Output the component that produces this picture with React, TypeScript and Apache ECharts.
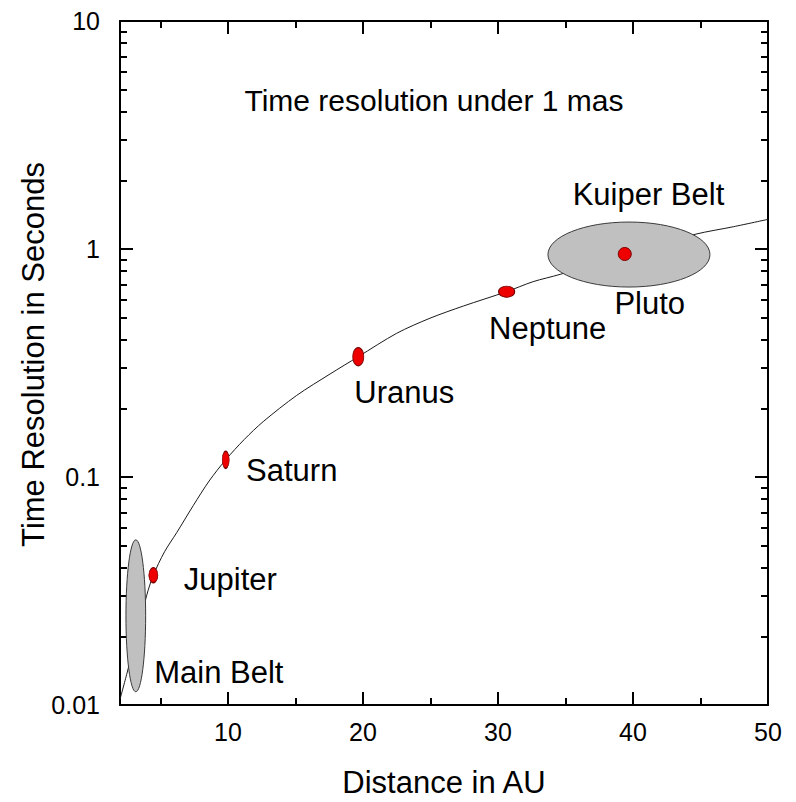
import React, { useEffect, useRef } from 'react';
import * as echarts from 'echarts';

// ---------- data ----------
const xMajorTicks = [10, 20, 30, 40, 50];
const xMinorTicks = [5, 15, 25, 35, 45];
const yMinorTickValues = [
  0.02, 0.03, 0.04, 0.05, 0.06, 0.07, 0.08, 0.09,
  0.2, 0.3, 0.4, 0.5, 0.6, 0.7, 0.8, 0.9,
  2, 3, 4, 5, 6, 7, 8, 9,
];

// curve: time resolution (s) vs distance (AU)
const curveDistance = [2.0, 2.52, 3.98, 4.47, 5.3, 6.2, 7.43, 8.6, 9.83, 11.2, 12.61, 15.09, 17.56, 19.65, 22.5, 24.96, 27.43, 30.64, 32.6, 34.6, 39.4, 44.6, 47.43, 50];
const curveTime = [0.0106, 0.0138, 0.0303, 0.0371, 0.047, 0.057, 0.075, 0.096, 0.119, 0.146, 0.175, 0.228, 0.283, 0.337, 0.427, 0.497, 0.562, 0.65, 0.719, 0.774, 0.951, 1.16, 1.252, 1.349];

// planets
const planetNames = ['Jupiter', 'Saturn', 'Uranus', 'Neptune', 'Pluto'];
const planetDistance = [4.47, 9.83, 19.65, 30.64, 39.39];
const planetTime = [0.0371, 0.119, 0.337, 0.65, 0.951];

// belts (extent of the shaded ellipses)
const beltNames = ['Main Belt', 'Kuiper Belt'];
const beltDistanceMin = [2.44, 33.7];
const beltDistanceMax = [3.9, 45.7];
const beltTimeMin = [0.01143, 0.681];
const beltTimeMax = [0.053, 1.313];

const chartTitle = 'Time resolution under 1 mas';
const xTitle = 'Distance in AU';
const yTitle = 'Time Resolution in Seconds';

// ---------- layout / style ----------
const FONT = '"Liberation Sans", Arial, Helvetica, sans-serif';
const planetMarkerSize = [[9, 15], [7, 17], [11, 18], [16, 11], [13, 13]];
const planetLabelOffset = [[77, 4], [66, 11], [46, 36], [41, 37], [25, 50]];
const beltLabelOffset = [[83, 56.5], [19.5, -60.5]];
const LABEL_SIZE = 31;

export default function App() {
  const ref = useRef<HTMLDivElement>(null);

  useEffect(() => {
    if (!ref.current) return;
    const chart = echarts.init(ref.current, undefined, { renderer: 'svg' });

    const axisLine = { show: true, onZero: false, lineStyle: { color: '#000', width: 2 } };
    const hiddenLine = { show: false, onZero: false };
    const tickStyle = { color: '#000', width: 2 };
    const noSplit = { show: false };
    const yMinorLog = yMinorTickValues.map((v) => Math.log10(v));

    const xAxes = [
      {
        type: 'value', min: 2, max: 50, position: 'bottom', gridIndex: 0,
        axisLine, splitLine: noSplit,
        axisTick: { show: true, inside: true, length: 13, customValues: xMajorTicks, lineStyle: tickStyle },
        axisLabel: { show: true, customValues: xMajorTicks, fontSize: 25, color: '#000', fontFamily: FONT, margin: 14 },
        name: xTitle, nameLocation: 'middle', nameGap: 62,
        nameTextStyle: { fontSize: 31, color: '#000', fontFamily: FONT },
      },
      {
        type: 'value', min: 2, max: 50, position: 'bottom', gridIndex: 0,
        axisLine: hiddenLine, splitLine: noSplit, axisLabel: { show: false },
        axisTick: { show: true, inside: true, length: 7, customValues: xMinorTicks, lineStyle: tickStyle },
      },
      {
        type: 'value', min: 2, max: 50, position: 'top', gridIndex: 0,
        axisLine, splitLine: noSplit, axisLabel: { show: false },
        axisTick: { show: true, inside: true, length: 13, customValues: xMajorTicks, lineStyle: tickStyle },
      },
      {
        type: 'value', min: 2, max: 50, position: 'top', gridIndex: 0,
        axisLine: hiddenLine, splitLine: noSplit, axisLabel: { show: false },
        axisTick: { show: true, inside: true, length: 7, customValues: xMinorTicks, lineStyle: tickStyle },
      },
    ];

    const yAxes = [
      {
        type: 'log', logBase: 10, min: 0.01, max: 10, position: 'left', gridIndex: 0,
        axisLine, splitLine: noSplit, minorTick: { show: false },
        axisTick: { show: true, inside: true, length: 13, lineStyle: tickStyle },
        axisLabel: { show: true, fontSize: 25, color: '#000', fontFamily: FONT, margin: 20 },
      },
      {
        type: 'value', min: -2, max: 1, position: 'left', gridIndex: 0,
        axisLine: hiddenLine, splitLine: noSplit, axisLabel: { show: false },
        axisTick: { show: true, inside: true, length: 7, customValues: yMinorLog, lineStyle: tickStyle },
      },
      {
        type: 'log', logBase: 10, min: 0.01, max: 10, position: 'right', gridIndex: 0,
        axisLine, splitLine: noSplit, axisLabel: { show: false },
        axisTick: { show: true, inside: true, length: 13, lineStyle: tickStyle },
      },
      {
        type: 'value', min: -2, max: 1, position: 'right', gridIndex: 0,
        axisLine: hiddenLine, splitLine: noSplit, axisLabel: { show: false },
        axisTick: { show: true, inside: true, length: 7, customValues: yMinorLog, lineStyle: tickStyle },
      },
    ];

    const option: any = {
      animation: false,
      backgroundColor: '#fff',
      grid: { left: 120, top: 21, width: 648, height: 684, containLabel: false, outerBoundsMode: 'none' },
      xAxis: xAxes,
      yAxis: yAxes,
      graphic: [
        {
          type: 'text', x: 434, y: 100, silent: true,
          style: { text: chartTitle, fontSize: 30, fontFamily: FONT, fill: '#000', align: 'center', verticalAlign: 'middle' },
        },
        {
          type: 'text', x: 33, y: 354.5, rotation: Math.PI / 2, silent: true,
          style: { text: yTitle, fontSize: 31, fontFamily: FONT, fill: '#000', align: 'center', verticalAlign: 'middle' },
        },
      ],
      series: [
        {
          type: 'line', xAxisIndex: 0, yAxisIndex: 0, z: 2,
          data: curveDistance.map((d, i) => [d, curveTime[i]]),
          showSymbol: false, symbol: 'none', smooth: 0.3,
          lineStyle: { color: '#1a1a1a', width: 1 },
          silent: true,
        },
        {
          type: 'custom', xAxisIndex: 0, yAxisIndex: 0, z: 3,
          coordinateSystem: 'cartesian2d',
          data: beltNames.map((_, i) => [beltDistanceMin[i], beltDistanceMax[i], beltTimeMin[i], beltTimeMax[i]]),
          encode: { x: [0, 1], y: [2, 3] },
          renderItem: (params: any, api: any) => {
            const i = params.dataIndex;
            const p1 = api.coord([api.value(0), api.value(3)]);
            const p2 = api.coord([api.value(1), api.value(2)]);
            const cx = (p1[0] + p2[0]) / 2;
            const cy = (p1[1] + p2[1]) / 2;
            const rx = Math.abs(p2[0] - p1[0]) / 2;
            const ry = Math.abs(p2[1] - p1[1]) / 2;
            return {
              type: 'group',
              children: [
                {
                  type: 'ellipse',
                  shape: { cx, cy, rx, ry },
                  style: { fill: '#c0c0c0', stroke: '#3a3a3a', lineWidth: 1 },
                },
                {
                  type: 'text',
                  x: cx + beltLabelOffset[i][0],
                  y: cy + beltLabelOffset[i][1],
                  style: {
                    text: beltNames[i], fontSize: LABEL_SIZE, fontFamily: FONT, fill: '#000',
                    align: 'center', verticalAlign: 'middle',
                  },
                },
              ],
            };
          },
          silent: true,
        },
        {
          type: 'scatter', xAxisIndex: 0, yAxisIndex: 0, z: 4,
          data: planetNames.map((n, i) => ({
            name: n,
            value: [planetDistance[i], planetTime[i]],
            symbolSize: planetMarkerSize[i],
            label: { offset: planetLabelOffset[i] },
          })),
          symbol: 'circle',
          itemStyle: { color: '#ee0000', borderColor: '#7a0000', borderWidth: 1, opacity: 1 },
          label: {
            show: true, position: 'inside', formatter: '{b}',
            fontSize: LABEL_SIZE, fontFamily: FONT, color: '#000',
            align: 'center', verticalAlign: 'middle',
          },
          silent: true,
        },
      ],
    };

    chart.setOption(option);
    return () => chart.dispose();
  }, []);

  return (
    <div
      ref={ref}
      style={{ position: 'fixed', left: 0, top: 0, width: 796, height: 802, background: '#fff' }}
    />
  );
}
